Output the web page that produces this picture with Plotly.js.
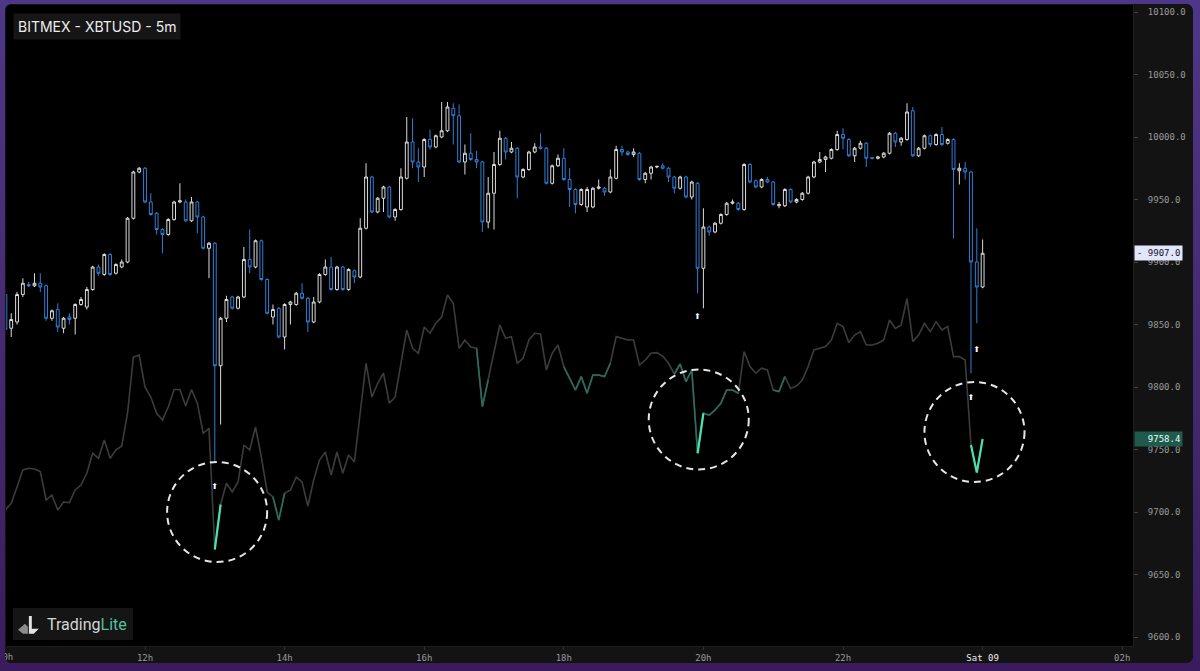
<!DOCTYPE html>
<html><head><meta charset="utf-8">
<script src="https://cdn.plot.ly/plotly-3.0.1.min.js"></script>
<style>
html,body{margin:0;padding:0;width:1200px;height:671px;overflow:hidden;background:linear-gradient(180deg,#4e3788 0%,#45296f 55%,#3a1b5e 100%);}
#frame{position:absolute;left:5px;top:4px;width:1188px;height:659px;border-radius:7px;overflow:hidden;background:#131313;}
</style></head><body><div id="frame"><div id="chart"></div></div>
<script>
// ---------- data ----------
const firstBar = [2020, 4, 8, 10, 0]; // Fri 08 May 2020 10:00, 5-minute bars
const barMinutes = 5;

const open = [9874,9847,9852,9874,9882,9881,9883,9881,9855,9862,9847,9856,9855,9866,9864,9878,9896,9890,9906,9891,9896,9900,9935,9972,9975,9948,9939,9926,9922,9934,9948,9948,9933,9948,9936,9911,9915,9817,9855,9872,9863,9872,9902,9896,9917,9886,9856,9863,9840,9866,9866,9875,9871,9852,9868,9890,9896,9878,9896,9878,9893,9888,9927,9968,9940,9951,9960,9936,
9942,9967,9996,9980,9976,9998,9992,10000,10005,10023,10017,9980,9987,9982,9980,9932,9955,9978,9999,9988,9991,9968,9974,9988,9992,9991,9963,9977,9983,9966,9958,9946,9944,9944,9959,9959,9956,9967,9990,9988,9986,9987,9966,9971,9976,9977,9975,9968,9959,9968,9952,9963,9895,9928,9924,9931,9938,9947,9947,9942,9978,9965,9960,9966,9964,
9945,9945,9958,9948,9950,9955,9968,9980,9982,9983,9990,10002,9998,9985,9991,9995,9983.5,9983,9984,9987,10003,9996,9998,10021,9985,9991,10001,9994,10002,9995,9998,9973,9975,9972,9900,9880];
const high = [9876,9859,9876,9887,9884,9891,9891,9882,9862,9867,9856,9859,9867,9872,9880,9897,9898,9907,9907,9899,9902,9936,9973,9976,9976,9955,9940,9927,9935,9949,9963,9950,9952,9949,9937,9916,9916,9856,9873,9873,9873,9912,9926,9918,9918,9887,9866,9864,9867,9869,9876,9883,9872,9872,9891,9902,9904,9897,9897,9895,9894,9935,9979,9969,9952,9961,9961,9943,
9975,10016,10015,9991,9999,10006,10002,10028,10028,10027,10026,9994,10003,9989,9981,9968,9988,10005,10000,9996,9992,9975,9989,9995,10003,9992,9978,9986,9991,9975,9959,9959,9960,9960,9966,9960,9974,9993,9993,9989,9991,9988,9972,9977,9977,9979,9976,9969,9969,9969,9965,9964,9943,9929,9932,9939,9948,9950,9948,9979,9979,9966,9967,9968,9965,
9948,9959,9959,9951,9956,9969,9981,9988,9985,9991,10005,10007,9999,9992,9997,9996,9984,9985,9988,10004,10004,10000,10027,10024,9992,10002,10002,10003,10008,9999,9999,9979,9980,9973,9927,9918];
const low = [9843,9840,9850,9872,9880,9880,9876,9853,9853,9844,9843,9850,9842,9865,9862,9877,9889,9889,9889,9890,9895,9899,9934,9971,9947,9937,9922,9907,9921,9933,9947,9932,9932,9923,9910,9887,9740,9770,9852,9862,9862,9871,9891,9895,9885,9858,9850,9839,9830,9850,9865,9870,9844,9851,9867,9889,9877,9877,9877,9877,9883,9887,9926,9939,9939,9940,9935,9933,
9941,9966,9975,9964,9968,9990,9991,9999,10004,9994,9979,9970,9981,9975,9924,9927,9926,9977,9982,9987,9951,9967,9973,9987,9990,9962,9962,9976,9965,9944,9939,9945,9940,9943,9958,9953,9955,9966,9985,9985,9984,9965,9963,9966,9975,9974,9964,9955,9958,9951,9950,9875,9863,9921,9923,9930,9937,9946,9941,9941,9963,9959,9959,9963,9945,
9943,9944,9947,9947,9949,9954,9967,9979,9972,9982,9989,9990,9984,9980,9990,9976,9982,9982,9983,9986,9992,9993,9997,9984,9984,9990,9992,9993,9993,9994,9919,9962,9966,9811,9851,9879];
const close = [9846,9854,9874,9883,9881,9883,9880,9855,9861,9848,9855,9854,9866,9870,9878,9896,9891,9906,9890,9898,9900,9935,9972,9975,9948,9938,9926,9922,9934,9948,9949,9933,9948,9936,9911,9915,9817,9855,9870,9863,9872,9902,9896,9917,9886,9859,9862,9840,9866,9868,9875,9871,9852,9868,9890,9896,9878,9896,9878,9894,9888,9927,9968,9940,9951,9960,9936,9942,
9968,9996,9980,9976,9998,9992,10001,10005,10024,10017,9980,9987,9982,9980,9932,9955,9978,9999,9988,9991,9968,9974,9988,9992,9991,9963,9977,9983,9966,9958,9946,9958,9958,9959,9960,9956,9968,9990,9988,9986,9988,9966,9971,9976,9976.5,9975,9968,9959,9968,9952,9964,9895,9928,9924,9931,9938,9947,9948,9942,9978,9964,9960,9966,9964,9946,
9946,9958,9948,9950,9955,9968,9980,9982,9984,9990,10002,9999,9985,9991,9995,9983,9983,9984,9987,10003,9996,9999,10020,9985,9991,10001,9994,10002,9994,9998,9974,9975,9972,9900,9880,9907];

// overlay line (second series, same price scale)
const overlayLine = [9701.6,9707,9720,9733.6,9735,9734.4,9732.3,9709.6,9713.6,9701.6,9708,9707.5,9717.6,9721.6,9731,9747,9743,9757.6,9743,9749.6,9752.8,9779,9824,9825.6,9800,9792,9779,9773.6,9784,9798,9798,9784.8,9798,9787,9763,9767,9670,9706,9723,9716,9724,9753.6,9749.6,9768,9744,9716,9712,9693.6,9715,9717.6,9728,9724,9704.8,9725.6,9741.6,9748,9729.6,9748,9731,9745.6,9740,9779,9819,9792,9803,9811,9787,9792,
9819,9845.6,9831,9827,9848,9843,9851,9856,9873.6,9867,9831,9837.6,9832,9831,9784.3,9805.6,9827,9849.6,9839,9840.3,9819,9823,9837.6,9843,9842.4,9813.6,9827,9833.6,9816.3,9807,9797.6,9808.3,9795,9809.6,9809.6,9808.3,9819,9840.3,9839,9837.6,9837.6,9817.6,9821.6,9827,9827.5,9824.8,9819,9810.4,9818.4,9804.3,9813.6,9747,9779,9777.6,9781.6,9787,9797.6,9797.6,9795,9828.3,9816.3,9811,9815,9813.6,9797.6,
9796.3,9808.3,9798.9,9800.8,9805.6,9816.3,9829.6,9831,9832.3,9837.6,9850.9,9848.3,9835.5,9841.6,9844.3,9833.6,9833.6,9835,9837.6,9853.6,9846.9,9849.6,9870.9,9836.3,9841.6,9850.9,9844.3,9852.3,9845.6,9848.3,9824.3,9824.3,9821.6,9753.6,9731.5,9758.4];

// index spans of the overlay line that are coloured
const tealSpans = [[46,48],[81,83],[96,104],[115,119],[120,126],[132,134]];
const brightSpans = [[36,37],[119,120],[166,168]];

// arrow markers (bar index, price)
const arrowBars = [36,119,166,167];
const arrowPrices = [9720,9856,9791,9830];

// highlighted zones (minutes after first bar, price)
const zoneMinutes = [182,596,833];
const zonePrices = [9700,9774,9764];

// axis ticks
const xTickHours = [10,12,14,16,18,20,22,24,26];
const xTickText = ['10h','12h','14h','16h','18h','20h','22h','<span style="color:#ececec">Sat 09</span>','02h'];
const lastPrice = 9907.0;
const overlayLast = 9758.4;

// ---------- build ----------
function p2(n){return (n<10?'0':'')+n;}
function fmt(ms){const d=new Date(ms);return d.getUTCFullYear()+'-'+p2(d.getUTCMonth()+1)+'-'+p2(d.getUTCDate())+' '+p2(d.getUTCHours())+':'+p2(d.getUTCMinutes())+':'+p2(d.getUTCSeconds());}
const t0 = Date.UTC(firstBar[0],firstBar[1],firstBar[2],firstBar[3],firstBar[4]);
const MIN = 60000;
const times = open.map((_,i)=>fmt(t0+i*barMinutes*MIN));
const xStart = t0+31000, xEnd = t0+(16*60+9)*MIN+16000;

function spanY(spans){
  return overlayLine.map((v,i)=>spans.some(s=>i>=s[0]&&i<=s[1])?v:null);
}

const traces = [
  {type:'scatter',mode:'lines',x:times,y:overlayLine,line:{color:'#3b3d3d',width:1.6},hoverinfo:'skip',showlegend:false},
  {type:'scatter',mode:'lines',x:times,y:spanY(tealSpans),line:{color:'#2a6c5d',width:1.6},connectgaps:false,hoverinfo:'skip',showlegend:false},
  {type:'scatter',mode:'lines',x:times,y:spanY(brightSpans),line:{color:'#46e3ae',width:2.2},connectgaps:false,hoverinfo:'skip',showlegend:false},
  {type:'candlestick',x:times,open:open,high:high,low:low,close:close,
    increasing:{line:{color:'#dadada',width:1},fillcolor:'#000000'},
    decreasing:{line:{color:'#2d7fd6',width:1},fillcolor:'#000000'},
    whiskerwidth:0,hoverinfo:'skip',showlegend:false},
  {type:'scatter',mode:'text',x:arrowBars.map(i=>times[i]),y:arrowPrices,text:arrowBars.map(()=>'⬆'),
    textfont:{family:'DejaVu Sans',size:8,color:'#ffffff'},hoverinfo:'skip',showlegend:false}
];

const rMin = 43, rPrice = 40;
const shapes = zoneMinutes.map((m,k)=>({type:'circle',xref:'x',yref:'y',
  x0:fmt(t0+(m-rMin)*MIN),x1:fmt(t0+(m+rMin)*MIN),y0:zonePrices[k]-rPrice,y1:zonePrices[k]+rPrice,
  line:{color:'#e6e6e6',width:2,dash:'7px,5px'},layer:'above'}));
shapes.push({type:'rect',xref:'paper',yref:'paper',x0:0.0062,x1:0.1127,y0:0.0094,y1:0.0593,fillcolor:'#151515',line:{width:0},layer:'below'});

const mono = 'DejaVu Sans Mono';
const layout = {
  width:1188,height:659,
  margin:{l:1,r:60,t:1,b:17,pad:0},
  paper_bgcolor:'#131313',plot_bgcolor:'#000000',
  showlegend:false,hovermode:false,
  xaxis:{type:'date',range:[fmt(xStart),fmt(xEnd)],
    rangeslider:{visible:false},showgrid:false,zeroline:false,
    tickvals:xTickHours.map(h=>fmt(t0+(h-10)*60*MIN)),ticktext:xTickText,
    tickfont:{family:mono,size:9,color:'#9a9a9a'},ticks:'outside',ticklen:3,tickcolor:'#333',
    showline:true,linecolor:'#1e1e1e',linewidth:1},
  yaxis:{side:'right',range:[9592.8,10105.6],showgrid:false,zeroline:false,
    tick0:0,dtick:50,tickformat:'.1f',
    tickfont:{family:mono,size:9,color:'#9a9a9a'},ticks:'outside',ticklen:4,tickcolor:'#444',ticklabelstandoff:8,
    showline:true,linecolor:'#1e1e1e',linewidth:1},
  shapes:shapes,
  annotations:[
    {xref:'paper',yref:'paper',x:0,y:1,xanchor:'left',yanchor:'top',xshift:7,yshift:-8,
     text:'BITMEX - XBTUSD - 5m',showarrow:false,bgcolor:'#161616',borderpad:4,
     font:{family:'Inter',size:14,color:'#ededed'}},
    {xref:'paper',yref:'paper',x:0,y:0,xanchor:'left',yanchor:'bottom',xshift:39,yshift:10,
     text:'Trading<span style="color:#4fc39d">Lite</span>',showarrow:false,
     font:{family:'Roboto',size:16,color:'#d6d6d6'}},
    {xref:'paper',yref:'paper',x:(t0-xStart)/(xEnd-xStart),y:0,xanchor:'center',yanchor:'top',yshift:-4,
     text:xTickText[0],showarrow:false,font:{family:mono,size:9,color:'#9a9a9a'}},
    {xref:'paper',yref:'y',x:1,y:lastPrice,xanchor:'left',yanchor:'middle',xshift:1,
     text:'- '+lastPrice.toFixed(1),showarrow:false,bgcolor:'#e3e5fb',borderpad:2,
     font:{family:mono,size:9,color:'#141428'}},
    {xref:'paper',yref:'y',x:1,y:overlayLast,xanchor:'left',yanchor:'middle',xshift:1,
     text:'  '+overlayLast.toFixed(1),showarrow:false,bgcolor:'#1f5a4d',borderpad:2,
     font:{family:mono,size:9,color:'#e6fff6'}}
  ],
  images:[{source:'data:image/svg+xml;utf8,'+encodeURIComponent("<svg xmlns='http://www.w3.org/2000/svg' width='24' height='20' viewBox='0 0 24 20'><polygon points='1,15 8,9 11,12 11,19 6,19' fill='#8c8c8c'/><polygon points='12,1 15,1 15,14 22,14 17,19 12,19' fill='#e2e2e2'/></svg>"),
    xref:'paper',yref:'paper',x:0.0098,y:0.05,sizex:0.021,sizey:0.034,xanchor:'left',yanchor:'top',layer:'above',sizing:'contain'}]
};

Plotly.newPlot('chart',traces,layout,{displayModeBar:false,staticPlot:true});
</script></body></html>
